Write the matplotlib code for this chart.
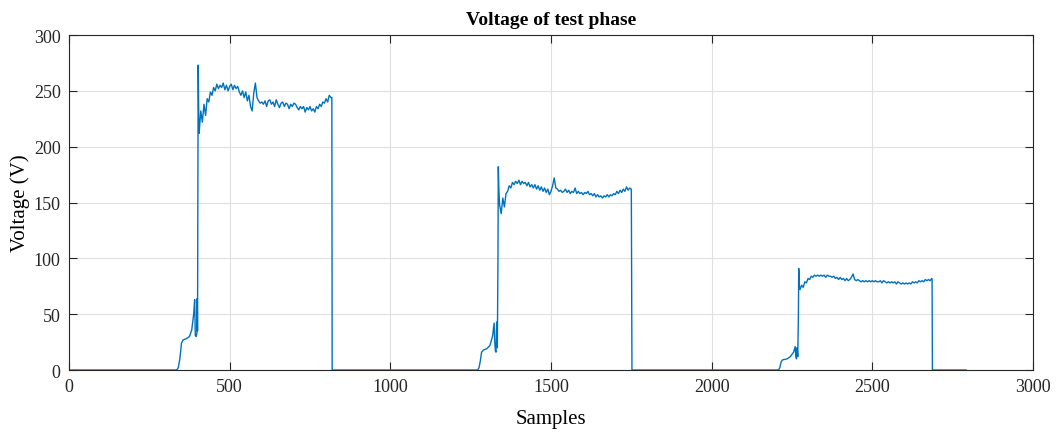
import numpy as np
import matplotlib
matplotlib.use("Agg")
import matplotlib.pyplot as plt

# rise / fall breakpoints (sample, volts)
rise1_s = [0, 335, 340, 345, 350, 355, 365, 375, 382, 388, 391, 392, 393, 396, 398, 399, 400, 401, 402, 404]
rise1_v = [0, 0, 2, 10, 24, 27, 28, 30, 36, 50, 63, 45, 31, 30, 33, 64, 35, 150, 273, 220]

# plateau 1, one value every 5 samples from 405
plat1_start = 405
plat1_v = [212, 232, 222, 238, 228, 243, 240, 249, 246, 253, 250, 256, 252, 255, 253, 257, 251, 255,
           250, 254, 256, 251, 255, 252, 254, 249, 246, 250, 244, 249, 241, 246, 236, 232, 248, 257,
           244, 241, 239, 240, 238, 241, 236, 241, 242, 238, 240, 236, 242, 238, 235, 239, 240, 236,
           239, 238, 234, 238, 236, 239, 238, 235, 233, 236, 234, 236, 231, 235, 233, 236, 232, 234,
           231, 236, 234, 238, 236, 240, 239, 243, 240, 246, 244]
fall1_s = [818, 819, 1272]
fall1_v = [244, 0, 0]

rise2_s = [1276, 1280, 1284, 1290, 1300, 1310, 1318, 1323, 1325, 1327, 1329, 1331, 1333, 1335, 1336, 1338]
rise2_v = [2, 8, 16, 18, 19, 22, 30, 42, 25, 17, 16, 43, 20, 100, 182, 160]

plat2_start = 1340
plat2_v = [148, 140, 154, 146, 158, 160, 165, 163, 168, 166, 169, 167, 170, 166, 169, 167, 168, 165,
           168, 164, 166, 163, 166, 162, 165, 161, 164, 160, 163, 159, 162, 157, 160, 165, 172, 163,
           162, 160, 161, 159, 160, 162, 159, 161, 158, 160, 159, 163, 158, 160, 158, 159, 157, 159,
           158, 160, 157, 158, 156, 158, 155, 157, 155, 156, 154, 156, 155, 157, 155, 157, 156, 158,
           157, 160, 158, 161, 159, 162, 160, 164, 161, 163]
fall2_s = [1750, 1752, 2208]
fall2_v = [162, 0, 0]

rise3_s = [2212, 2216, 2220, 2235, 2245, 2255, 2260, 2262, 2264, 2266, 2268, 2270, 2271, 2273]
rise3_v = [2, 7, 9, 10, 12, 16, 21, 12, 10, 20, 12, 50, 91, 75]

plat3_start = 2275
plat3_v = [72, 76, 74, 79, 78, 82, 81, 84, 83, 85, 84, 85, 84, 85, 84, 85, 83, 85, 84, 84, 83, 84,
           82, 83, 81, 83, 81, 82, 80, 82, 80, 81, 83, 86, 81, 80, 81, 80, 79, 80, 79, 80, 79, 80,
           79, 80, 79, 80, 79, 79, 80, 78, 80, 79, 78, 79, 78, 79, 78, 79, 77, 79, 78, 77, 78, 77,
           78, 77, 78, 77, 79, 78, 79, 78, 80, 79, 80, 79, 81, 80, 81, 80, 82]
fall3_s = [2686, 2687, 2792]
fall3_v = [81, 0, 0]


def plateau_x(start, vals):
    return list(start + 5 * np.arange(len(vals)))


samples = (rise1_s + plateau_x(plat1_start, plat1_v) + fall1_s
           + rise2_s + plateau_x(plat2_start, plat2_v) + fall2_s
           + rise3_s + plateau_x(plat3_start, plat3_v) + fall3_s)
volts = (rise1_v + plat1_v + fall1_v
         + rise2_v + plat2_v + fall2_v
         + rise3_v + plat3_v + fall3_v)

plt.rcParams['font.family'] = ['Liberation Serif', 'DejaVu Serif']

fig = plt.figure(figsize=(10.6, 4.35), dpi=100)
ax = fig.add_axes([0.0651, 0.1471, 0.9094, 0.7701])
ax.plot(samples, volts, color='#0072BD', linewidth=1.0)

ax.set_xlim(0, 3000)
ax.set_ylim(0, 300)
ax.set_xticks(range(0, 3001, 500))
ax.set_yticks(range(0, 301, 50))
ax.grid(True, color='#e0e0e0', linewidth=0.8)
ax.set_axisbelow(True)
ax.tick_params(direction='in', top=True, right=True, length=6, width=0.8,
               labelsize=13, colors='#262626', pad=6)
for sp in ax.spines.values():
    sp.set_color('#262626')
    sp.set_linewidth(0.8)

ax.set_title('Voltage of test phase', fontsize=14, fontweight='bold', pad=8)
ax.set_xlabel('Samples', fontsize=15, labelpad=10)
ax.set_ylabel('Voltage (V)', fontsize=15)
ax.yaxis.set_label_coords(-0.040, 0.5)

fig.savefig('out.png', dpi=100)
